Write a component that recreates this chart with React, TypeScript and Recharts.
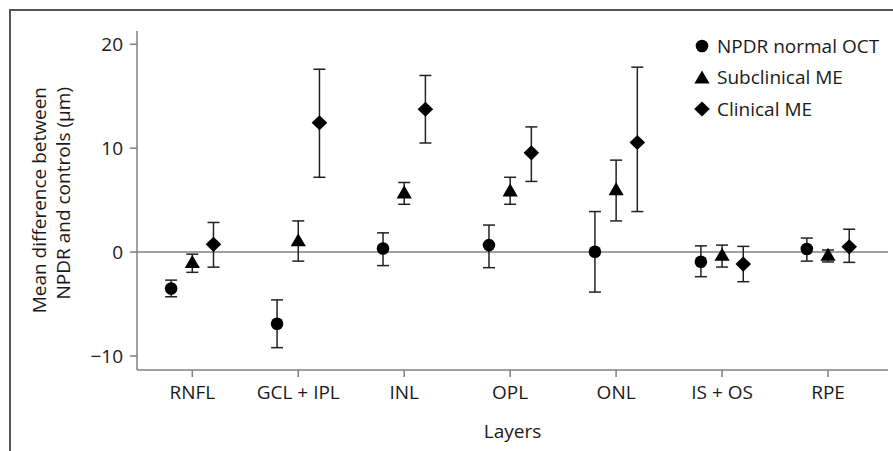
import React from 'react';
import { ScatterChart, Scatter, XAxis, YAxis, ErrorBar, ReferenceLine, Legend, Label } from 'recharts';

const categories = ['RNFL', 'GCL + IPL', 'INL', 'OPL', 'ONL', 'IS + OS', 'RPE'];
const seriesNames = ['NPDR normal OCT', 'Subclinical ME', 'Clinical ME'];

const npdrMean = [-3.5, -6.9, 0.35, 0.67, 0.03, -0.93, 0.29];
const npdrLow = [-4.3, -9.2, -1.3, -1.5, -3.85, -2.37, -0.87];
const npdrHigh = [-2.7, -4.6, 1.85, 2.6, 3.9, 0.6, 1.35];

const subMean = [-1.0, 1.1, 5.7, 5.9, 6.0, -0.3, -0.3];
const subLow = [-1.95, -0.87, 4.6, 4.6, 3.0, -1.44, -0.95];
const subHigh = [-0.2, 3.0, 6.7, 7.2, 8.85, 0.67, 0.2];

const clinMean = [0.75, 12.45, 13.75, 9.55, 10.55, -1.15, 0.51];
const clinLow = [-1.45, 7.2, 10.5, 6.8, 3.9, -2.85, -0.99];
const clinHigh = [2.85, 17.6, 17.0, 12.05, 17.8, 0.55, 2.2];

const yTicks = [-10, 0, 10, 20];
const groupOffsets = [-0.2, 0, 0.2];

const FONT = "'Open Sans', 'Noto Sans', sans-serif";
const TEXT = '#1a1a1a';
const AXIS = '#808080';

function buildSeries(mean: number[], low: number[], high: number[], offset: number) {
  return categories.map((c, i) => ({
    layer: c,
    x: i + 1 + offset,
    y: mean[i],
    err: [mean[i] - low[i], high[i] - mean[i]],
  }));
}

const npdrData = buildSeries(npdrMean, npdrLow, npdrHigh, groupOffsets[0]);
const subData = buildSeries(subMean, subLow, subHigh, groupOffsets[1]);
const clinData = buildSeries(clinMean, clinLow, clinHigh, groupOffsets[2]);

const CircleShape = (props: any) => <circle cx={props.cx} cy={props.cy} r={6.3} fill="#000" />;
const TriangleShape = (props: any) => {
  const { cx, cy } = props;
  return (
    <polygon
      points={`${cx},${cy - 7.5} ${cx + 7.6},${cy + 5.6} ${cx - 7.6},${cy + 5.6}`}
      fill="#000"
    />
  );
};
const DiamondShape = (props: any) => {
  const { cx, cy } = props;
  return (
    <polygon
      points={`${cx},${cy - 7.6} ${cx + 7.8},${cy} ${cx},${cy + 7.6} ${cx - 7.8},${cy}`}
      fill="#000"
    />
  );
};

const shapes = [CircleShape, TriangleShape, DiamondShape];

const LegendContent = () => (
  <div style={{ fontFamily: FONT, fontSize: 19, color: TEXT }}>
    {seriesNames.map((name, i) => {
      const Shape = shapes[i];
      return (
        <div key={name} style={{ display: 'flex', alignItems: 'center', height: 31.5 }}>
          <svg width={16} height={18} style={{ display: 'block' }}>
            <Shape cx={8} cy={i === 1 ? 10 : 9} />
          </svg>
          <span style={{ marginLeft: 7, lineHeight: '20px', whiteSpace: 'nowrap' }}>{name}</span>
        </div>
      );
    })}
  </div>
);

const YLabel = (props: any) => {
  const vb = props.viewBox || { x: 0, y: 31 };
  const top = vb.y + 56;
  return (
    <g>
      <text
        x={46}
        y={top}
        transform={`rotate(-90, 46, ${top})`}
        textAnchor="end"
        fontFamily={FONT}
        fontSize={19}
        fill={TEXT}
      >
        Mean difference between
      </text>
      <text
        x={70}
        y={top}
        transform={`rotate(-90, 70, ${top})`}
        textAnchor="end"
        fontFamily={FONT}
        fontSize={19}
        fill={TEXT}
      >
        NPDR and controls (μm)
      </text>
    </g>
  );
};

export default function App() {
  return (
    <div
      style={{
        position: 'absolute',
        left: 0,
        top: 0,
        width: 893,
        height: 451,
        background: '#fff',
        fontFamily: FONT,
        overflow: 'hidden',
      }}
    >
      <ScatterChart
        width={893}
        height={451}
        margin={{ top: 31, right: 5, bottom: 0, left: 0 }}
        style={{ fontFamily: FONT }}
      >
        <XAxis
          type="number"
          dataKey="x"
          domain={[0.478, 7.566]}
          ticks={categories.map((_, i) => i + 1)}
          tickFormatter={(v: number) => categories[Math.round(v) - 1]}
          interval={0}
          allowDataOverflow
          height={81}
          tickSize={7}
          tickMargin={9}
          stroke={AXIS}
          strokeWidth={1.5}
          tick={{ fill: TEXT, fontSize: 19, fontFamily: FONT }}
        >
          <Label
            value="Layers"
            position="insideBottom"
            offset={13}
            fill={TEXT}
            fontSize={19}
            fontFamily={FONT}
          />
        </XAxis>
        <YAxis
          type="number"
          dataKey="y"
          domain={[-11.35, 21.28]}
          ticks={yTicks}
          tickFormatter={(v: number) => (v < 0 ? `\u2212${Math.abs(v)}` : `${v}`)}
          allowDataOverflow
          width={137}
          tickSize={7}
          tickMargin={7}
          stroke={AXIS}
          strokeWidth={1.5}
          tick={{ fill: TEXT, fontSize: 19, fontFamily: FONT }}
        >
          <Label content={YLabel} />
        </YAxis>
        <ReferenceLine y={0} stroke={AXIS} strokeWidth={1.5} />
        <Scatter name={seriesNames[0]} data={npdrData} shape={CircleShape} isAnimationActive={false}>
          <ErrorBar dataKey="err" direction="y" width={6} stroke="#222" strokeWidth={1.5} isAnimationActive={false} />
        </Scatter>
        <Scatter name={seriesNames[1]} data={subData} shape={TriangleShape} isAnimationActive={false}>
          <ErrorBar dataKey="err" direction="y" width={6} stroke="#222" strokeWidth={1.5} isAnimationActive={false} />
        </Scatter>
        <Scatter name={seriesNames[2]} data={clinData} shape={DiamondShape} isAnimationActive={false}>
          <ErrorBar dataKey="err" direction="y" width={6} stroke="#222" strokeWidth={1.5} isAnimationActive={false} />
        </Scatter>
        <Legend
          layout="vertical"
          align="center"
          verticalAlign="middle"
          content={LegendContent}
          wrapperStyle={{ left: 694, top: 30, width: 199, height: 95 }}
        />
      </ScatterChart>
      <div
        style={{
          position: 'absolute',
          left: 9,
          top: 9,
          right: 0,
          bottom: 0,
          borderTop: '2px solid #555',
          borderLeft: '2px solid #555',
          pointerEvents: 'none',
        }}
      />
    </div>
  );
}
